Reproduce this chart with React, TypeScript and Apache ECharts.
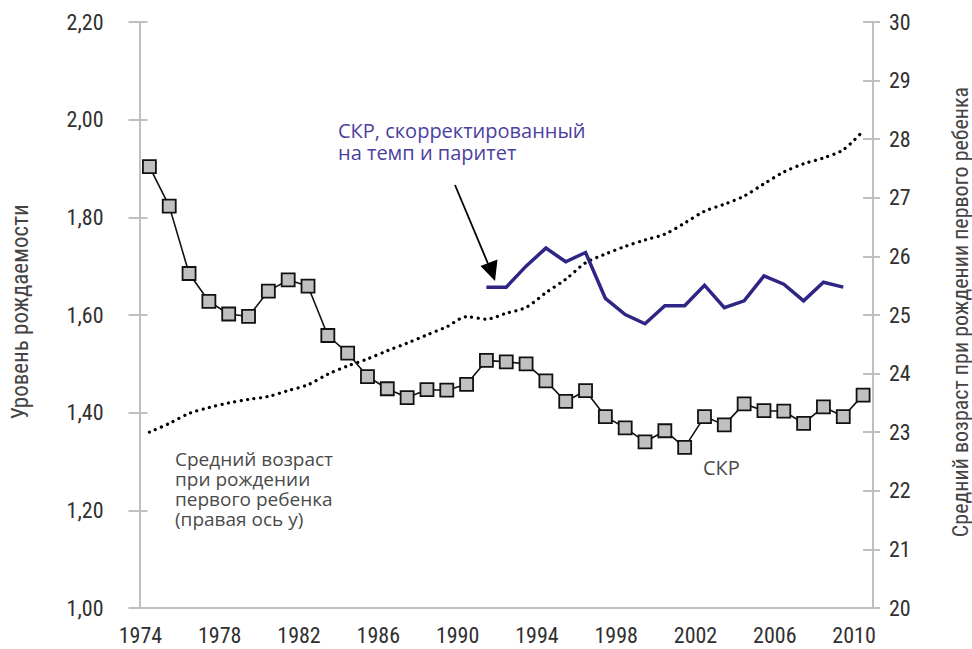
import React, { useEffect, useRef } from "react";
import * as echarts from "echarts";

const years: string[] = [
  "1974","1975","1976","1977","1978","1979","1980","1981","1982","1983",
  "1984","1985","1986","1987","1988","1989","1990","1991","1992","1993",
  "1994","1995","1996","1997","1998","1999","2000","2001","2002","2003",
  "2004","2005","2006","2007","2008","2009","2010",
];

// СКР (TFR), left axis
const tfr: number[] = [
  1.904, 1.823, 1.685, 1.628, 1.602, 1.597, 1.649, 1.672, 1.659, 1.558,
  1.522, 1.474, 1.449, 1.431, 1.447, 1.446, 1.458, 1.507, 1.504, 1.5,
  1.465, 1.423, 1.445, 1.392, 1.369, 1.34, 1.363, 1.329, 1.392, 1.375,
  1.418, 1.404, 1.403, 1.378, 1.412, 1.392, 1.436,
];

// СКР, скорректированный на темп и паритет, left axis
const tfrAdjusted: (number | null)[] = [
  null, null, null, null, null, null, null, null, null, null,
  null, null, null, null, null, null, null, 1.657, 1.657, 1.7,
  1.737, 1.709, 1.728, 1.634, 1.601, 1.582, 1.619, 1.619, 1.661, 1.615,
  1.629, 1.68, 1.663, 1.629, 1.667, 1.657, null,
];

// Средний возраст при рождении первого ребенка, right axis
const meanAge: number[] = [
  23.0, 23.15, 23.32, 23.42, 23.5, 23.56, 23.61, 23.71, 23.81, 23.99,
  24.13, 24.25, 24.39, 24.52, 24.66, 24.8, 24.97, 24.93, 25.03, 25.13,
  25.38, 25.61, 25.89, 26.04, 26.17, 26.28, 26.38, 26.57, 26.77, 26.89,
  27.03, 27.24, 27.44, 27.58, 27.68, 27.82, 28.14,
];

const leftTicks = { min: 1.0, max: 2.2, interval: 0.2 };
const rightTicks = { min: 20, max: 30, interval: 1 };

const NARROW = "'Liberation Sans Narrow', 'Arial Narrow', 'Roboto Condensed', Roboto, sans-serif";
const SOFT = "'Open Sans', 'Noto Sans', sans-serif";
const AXIS_COLOR = "#bfbfbf";
const LABEL_COLOR = "#303030";

export default function App() {
  const ref = useRef<HTMLDivElement>(null);

  useEffect(() => {
    document.body.style.margin = "0";
    if (!ref.current) return;
    const chart = echarts.init(ref.current, undefined, { renderer: "svg" });

    const tickStyle = { color: AXIS_COLOR, width: 2 };

    const option: any = {
      animation: false,
      grid: { left: 139.5, right: 99, top: 22, bottom: 41 },
      xAxis: [
        {
          type: "category",
          data: years,
          boundaryGap: true,
          axisLine: { lineStyle: { color: AXIS_COLOR, width: 2 } },
          axisTick: { interval: 0, length: 5, lineStyle: tickStyle },
          axisLabel: {
            interval: 3,
            color: LABEL_COLOR,
            fontFamily: NARROW,
            fontSize: 22,
            margin: 16,
            padding: [0, 18, 0, 0],
          },
          splitLine: { show: false },
        },
        {
          type: "category",
          data: years,
          position: "bottom",
          boundaryGap: true,
          axisLine: { show: false },
          axisTick: { interval: 0, inside: true, length: 9, lineStyle: tickStyle },
          axisLabel: { show: false },
          splitLine: { show: false },
        },
      ],
      yAxis: [
        {
          type: "value",
          position: "left",
          ...leftTicks,
          axisLine: { show: true, lineStyle: { color: AXIS_COLOR, width: 2 } },
          axisTick: { show: true, length: 11, lineStyle: tickStyle },
          axisLabel: {
            color: LABEL_COLOR,
            fontFamily: NARROW,
            fontSize: 22,
            margin: 36,
            formatter: (v: number) => v.toFixed(2).replace(".", ","),
          },
          splitLine: { show: false },
        },
        {
          type: "value",
          position: "right",
          ...rightTicks,
          axisLine: { show: true, lineStyle: { color: AXIS_COLOR, width: 2 } },
          axisTick: { show: true, length: 7, lineStyle: tickStyle },
          axisLabel: {
            color: LABEL_COLOR,
            fontFamily: NARROW,
            fontSize: 22,
            margin: 16,
          },
          splitLine: { show: false },
        },
        {
          type: "value",
          position: "left",
          ...leftTicks,
          axisLine: { show: false },
          axisTick: { show: true, inside: true, length: 8, lineStyle: tickStyle },
          axisLabel: { show: false },
          splitLine: { show: false },
        },
        {
          type: "value",
          position: "right",
          ...rightTicks,
          axisLine: { show: false },
          axisTick: { show: true, inside: true, length: 10, lineStyle: tickStyle },
          axisLabel: { show: false },
          splitLine: { show: false },
        },
      ],
      series: [
        {
          name: "Средний возраст при рождении первого ребенка",
          type: "line",
          xAxisIndex: 0,
          yAxisIndex: 1,
          data: meanAge,
          symbol: "none",
          smooth: 0.3,
          lineStyle: { color: "#000", width: 3.2, type: [0.1, 6.4], cap: "round" },
          z: 2,
        },
        {
          name: "СКР, скорректированный на темп и паритет",
          type: "line",
          xAxisIndex: 0,
          yAxisIndex: 0,
          data: tfrAdjusted,
          symbol: "none",
          connectNulls: false,
          lineStyle: { color: "#2e2585", width: 3.5, join: "miter" },
          z: 3,
        },
        {
          name: "СКР",
          type: "line",
          xAxisIndex: 0,
          yAxisIndex: 0,
          data: tfr,
          symbol: "rect",
          symbolSize: 13,
          showAllSymbol: true,
          lineStyle: { color: "#111", width: 1.6 },
          itemStyle: { color: "#c0c0c0", borderColor: "#111", borderWidth: 1.8 },
          z: 4,
        },
      ],
      graphic: [
        {
          type: "text",
          x: 20,
          y: 312,
          rotation: Math.PI / 2,
          style: {
            text: "Уровень рождаемости",
            fontFamily: NARROW,
            fontSize: 23,
            fill: "#444",
            textAlign: "center",
            textVerticalAlign: "middle",
            align: "center",
            verticalAlign: "middle",
          },
        },
        {
          type: "text",
          x: 960,
          y: 312,
          rotation: Math.PI / 2,
          style: {
            text: "Средний возраст при рождении первого ребенка",
            fontFamily: NARROW,
            fontSize: 22,
            fill: "#444",
            textAlign: "center",
            textVerticalAlign: "middle",
            align: "center",
            verticalAlign: "middle",
          },
        },
        {
          type: "text",
          x: 338,
          y: 119,
          style: {
            text: "СКР, скорректированный\nна темп и паритет",
            fontFamily: SOFT,
            fontSize: 20,
            lineHeight: 22,
            fill: "#4b3f9f",
            textAlign: "left",
            textVerticalAlign: "top",
            align: "left",
            verticalAlign: "top",
          },
        },
        {
          type: "text",
          x: 175,
          y: 449,
          style: {
            text: "Средний возраст\nпри рождении\nпервого ребенка\n(правая ось у)",
            fontFamily: SOFT,
            fontSize: 19,
            lineHeight: 20,
            fill: "#4a4a4a",
            textAlign: "left",
            textVerticalAlign: "top",
            align: "left",
            verticalAlign: "top",
          },
        },
        {
          type: "text",
          x: 703,
          y: 467,
          style: {
            text: "СКР",
            fontFamily: SOFT,
            fontSize: 20,
            fill: "#4a4a4a",
            textAlign: "left",
            textVerticalAlign: "middle",
            align: "left",
            verticalAlign: "middle",
          },
        },
        {
          type: "line",
          shape: { x1: 455, y1: 185, x2: 489, y2: 266 },
          style: { stroke: "#000", lineWidth: 1.8 },
        },
        {
          type: "polygon",
          shape: { points: [[495, 281], [480.5, 266], [497.5, 259.5]] },
          style: { fill: "#000" },
        },
      ],
    };

    chart.setOption(option);
    return () => chart.dispose();
  }, []);

  return <div ref={ref} style={{ width: 972, height: 649 }} />;
}
